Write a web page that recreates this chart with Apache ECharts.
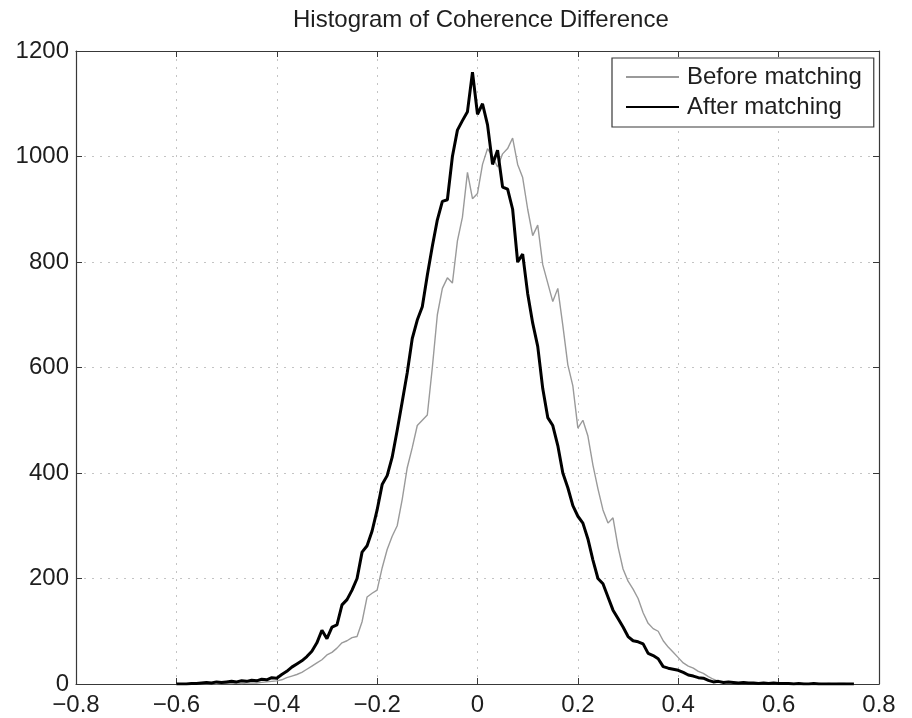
<!DOCTYPE html>
<html>
<head>
<meta charset="utf-8">
<title>Histogram of Coherence Difference</title>
<script src="https://cdn.jsdelivr.net/npm/echarts@6/dist/echarts.min.js"></script>
<style>
  html, body { margin: 0; padding: 0; background: #fff; }
  #chart { width: 912px; height: 718px; }
</style>
</head>
<body>
<div id="chart"></div>
<script>
// Histogram bin centres (coherence difference)
const binCenters = [
  -0.60,-0.59,-0.58,-0.57,-0.56,-0.55,-0.54,-0.53,-0.52,-0.51,
  -0.50,-0.49,-0.48,-0.47,-0.46,-0.45,-0.44,-0.43,-0.42,-0.41,
  -0.40,-0.39,-0.38,-0.37,-0.36,-0.35,-0.34,-0.33,-0.32,-0.31,
  -0.30,-0.29,-0.28,-0.27,-0.26,-0.25,-0.24,-0.23,-0.22,-0.21,
  -0.20,-0.19,-0.18,-0.17,-0.16,-0.15,-0.14,-0.13,-0.12,-0.11,
  -0.10,-0.09,-0.08,-0.07,-0.06,-0.05,-0.04,-0.03,-0.02,-0.01,
   0.00, 0.01, 0.02, 0.03, 0.04, 0.05, 0.06, 0.07, 0.08, 0.09,
   0.10, 0.11, 0.12, 0.13, 0.14, 0.15, 0.16, 0.17, 0.18, 0.19,
   0.20, 0.21, 0.22, 0.23, 0.24, 0.25, 0.26, 0.27, 0.28, 0.29,
   0.30, 0.31, 0.32, 0.33, 0.34, 0.35, 0.36, 0.37, 0.38, 0.39,
   0.40, 0.41, 0.42, 0.43, 0.44, 0.45, 0.46, 0.47, 0.48, 0.49,
   0.50, 0.51, 0.52, 0.53, 0.54, 0.55, 0.56, 0.57, 0.58, 0.59,
   0.60, 0.61, 0.62, 0.63, 0.64, 0.65, 0.66, 0.67, 0.68, 0.69,
   0.70, 0.71, 0.72, 0.73, 0.74, 0.75
];

// Counts per bin before matching
const beforeMatching = [
  0, 0, 0, 0, 0, 1, 0, 1, 0, 1,
  1, 1, 2, 1, 2, 2, 2, 3, 4, 5,
  6, 8, 12, 15, 18, 22, 28, 34, 40, 46,
  55, 60, 68, 78, 82, 88, 90, 118, 165, 172,
  178, 220, 255, 280, 300, 350, 410, 448, 490, 500,
  510, 600, 700, 750, 770, 760, 840, 885, 970, 920,
  930, 985, 1015, 1000, 980, 1005, 1015, 1035, 985, 960,
  900, 850, 870, 795, 760, 725, 750, 680, 605, 565,
  485, 500, 470, 415, 370, 330, 305, 315, 260, 218,
  195, 180, 162, 135, 115, 105, 100, 82, 70, 60,
  50, 40, 34, 30, 24, 20, 14, 9, 5, 4,
  3, 3, 2, 3, 2, 2, 2, 1, 2, 1,
  1, 1, 2, 1, 1, 1, 0, 1, 1, 0,
  1, 0, 1, 1, 0, 0
];

// Counts per bin after matching
const afterMatching = [
  0, 0, 0, 1, 1, 2, 3, 2, 4, 3,
  4, 5, 4, 6, 5, 7, 6, 9, 8, 12,
  11, 18, 24, 32, 38, 44, 52, 62, 78, 102,
  86, 108, 112, 150, 160, 178, 200, 250, 262, 290,
  330, 378, 395, 430, 481, 535, 590, 655, 690, 715,
  775, 830, 880, 915, 918, 1000, 1050, 1068, 1085, 1160,
  1080, 1100, 1060, 985, 1012, 942, 938, 900, 800, 815,
  740, 684, 640, 560, 505, 490, 452, 400, 372, 338,
  318, 305, 275, 235, 200, 190, 165, 140, 124, 108,
  90, 82, 80, 76, 58, 54, 48, 33, 30, 28,
  26, 22, 17, 15, 12, 11, 7, 4, 5, 3,
  4, 3, 2, 3, 2, 2, 1, 2, 1, 2,
  1, 1, 1, 0, 1, 0, 0, 1, 0, 0,
  0, 0, 0, 0, 0, 0
];

const seriesNames = ['Before matching', 'After matching'];

const FONT = '"Liberation Sans", Arial, Helvetica, sans-serif';
const FONT_SIZE = 24;
const TEXT = '#1e1e1e';
const AXIS = '#383838';
const GRID = '#c4c4c4';

const toPairs = ys => binCenters.map((x, i) => [x, ys[i]]);
const fmtX = v => {
  const r = +(+v).toFixed(1);
  if (r === 0) return '0';
  return r < 0 ? '\u2212' + Math.abs(r) : String(r);
};
const fmtY = v => String(Math.round(v));

const frameAxis = (extra) => Object.assign({
  axisLine: { show: true, onZero: false, lineStyle: { color: AXIS, width: 1.2 } },
  axisTick: { show: true, inside: true, length: 6, lineStyle: { color: AXIS, width: 1 } }
}, extra);

const chart = echarts.init(document.getElementById('chart'), null, { renderer: 'canvas' });

chart.setOption({
  animation: false,
  backgroundColor: '#fff',
  title: {
    text: 'Histogram of Coherence Difference',
    left: 293,
    top: 8,
    padding: 0,
    textStyle: { fontFamily: FONT, fontSize: FONT_SIZE, fontWeight: 'normal', color: TEXT }
  },
  legend: {
    data: seriesNames,
    orient: 'vertical',
    left: 612,
    top: 58,
    padding: [7, 12, 8, 13],
    itemGap: 6,
    itemWidth: 53,
    itemHeight: 14,
    itemStyle: { opacity: 0, borderWidth: 0 },
    borderColor: AXIS,
    borderWidth: 1.2,
    backgroundColor: '#fff',
    textStyle: { fontFamily: FONT, fontSize: FONT_SIZE, color: TEXT, padding: [0, 0, 0, 3] }
  },
  grid: { left: 76, right: 33, top: 51, bottom: 34, containLabel: false },
  xAxis: [
    frameAxis({
      type: 'value', min: -0.8, max: 0.8, interval: 0.2, position: 'bottom',
      axisLabel: { margin: 9, fontFamily: FONT, fontSize: FONT_SIZE, color: TEXT, formatter: fmtX },
      splitLine: { show: true, lineStyle: { color: GRID, width: 1, type: [2, 6] } }
    }),
    frameAxis({
      type: 'value', min: -0.8, max: 0.8, interval: 0.2, position: 'top',
      axisLabel: { show: false }, splitLine: { show: false }
    })
  ],
  yAxis: [
    frameAxis({
      type: 'value', min: 0, max: 1200, interval: 200, position: 'left',
      axisLabel: { margin: 7, fontFamily: FONT, fontSize: FONT_SIZE, color: TEXT, formatter: fmtY },
      splitLine: { show: true, lineStyle: { color: GRID, width: 1, type: [2, 6] } }
    }),
    frameAxis({
      type: 'value', min: 0, max: 1200, interval: 200, position: 'right',
      axisLabel: { show: false }, splitLine: { show: false }
    })
  ],
  series: [
    {
      name: seriesNames[0], type: 'line', xAxisIndex: 0, yAxisIndex: 0,
      data: toPairs(beforeMatching),
      symbol: 'none', showSymbol: false,
      lineStyle: { color: '#9a9a9a', width: 1.4 },
      itemStyle: { color: '#9a9a9a' },
      z: 2
    },
    {
      name: seriesNames[1], type: 'line', xAxisIndex: 0, yAxisIndex: 0,
      data: toPairs(afterMatching),
      symbol: 'none', showSymbol: false,
      lineStyle: { color: '#000', width: 3 },
      itemStyle: { color: '#000' },
      z: 3
    }
  ]
});
</script>
</body>
</html>
